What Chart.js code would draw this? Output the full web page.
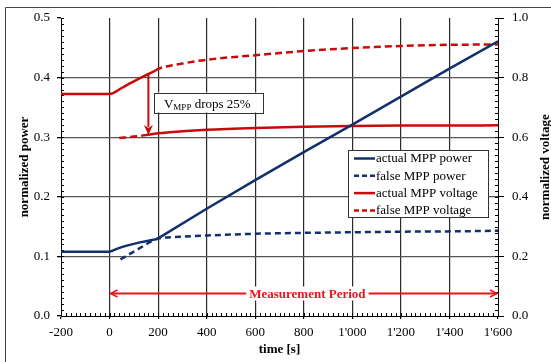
<!DOCTYPE html>
<html><head><meta charset="utf-8">
<script src="https://cdn.jsdelivr.net/npm/chart.js@4/dist/chart.umd.min.js"></script>
<style>html,body{margin:0;padding:0;background:#fff}#wrap{width:551px;height:362px;position:relative}canvas{display:block}</style>
</head><body><div id="wrap"><canvas id="c" width="551" height="362"></canvas></div>
<script>
// ---- data ----
const xTickValues = [-200,0,200,400,600,800,1000,1200,1400,1600];
const powerTickValues = [0,0.1,0.2,0.3,0.4,0.5];
const voltageTickValues = [0,0.2,0.4,0.6,0.8,1.0];

const timeActualPower = [-200,0,15,30,50,75,100,125,150,175,195,400,600,800,1000,1200,1400,1600];
const actualPower     = [0.108,0.108,0.110,0.1125,0.1155,0.1185,0.121,0.1235,0.1255,0.1275,0.129,0.180,0.228,0.275,0.321,0.368,0.415,0.461];

const timeFalsePower = [45,100,150,185,200,300,400,600,800,1000,1200,1400,1600];
const falsePower     = [0.095,0.108,0.120,0.128,0.130,0.133,0.135,0.138,0.1395,0.1405,0.1415,0.142,0.143];

const timeActualVoltageBefore = [-200,0,15,50,100,150,190];
const actualVoltageBefore     = [0.745,0.745,0.748,0.765,0.787,0.808,0.824];
const timeActualVoltageAfter  = [150,200,300,400,600,800,1000,1200,1400,1600];
const actualVoltageAfter      = [0.607,0.613,0.620,0.625,0.631,0.635,0.638,0.639,0.639,0.640];

const timeFalseVoltageBefore = [40,100,150];
const falseVoltageBefore     = [0.597,0.602,0.607];
const timeFalseVoltageAfter  = [190,200,300,400,600,800,1000,1200,1400,1600];
const falseVoltageAfter      = [0.824,0.829,0.847,0.860,0.875,0.889,0.899,0.906,0.910,0.911];

const seriesLabels = ['actual MPP power','false MPP power','actual MPP voltage','false MPP voltage'];

// annotations (data units)
const dropArrow = {time:160, from:0.812, to:0.607, text:'drops 25%'};
const dropBox = {time:183, value:0.75};
const period = {start:0, end:1600, value:0.039, label:'Measurement Period', labelTime:815};

const NAVY = '#13306E', RED = '#C80A0A', BRIGHT = '#E8141C';
const SERIF = '"Liberation Serif","Times New Roman",serif';
const pts = (xs, ys) => xs.map((v,i)=>({x:v, y:ys[i]}));
const fmtX = v => { const s = Math.abs(v) >= 1000 ? (v<0?'-':'') + Math.floor(Math.abs(v)/1000) + "'" + String(Math.abs(v)%1000).padStart(3,'0') : String(v); return s; };

const datasets = [
  {label:seriesLabels[0], data:pts(timeActualPower, actualPower), borderColor:NAVY, borderWidth:2.5, yAxisID:'y', legend:true, cubicInterpolationMode:'default', tension:0},
  {label:seriesLabels[1], data:pts(timeFalsePower, falsePower), borderColor:NAVY, borderWidth:2.5, borderDash:[6,4], yAxisID:'y', legend:true},
  {label:seriesLabels[2], data:pts(timeActualVoltageBefore, actualVoltageBefore), borderColor:RED, borderWidth:2.5, yAxisID:'y1', legend:true},
  {label:seriesLabels[2], data:pts(timeActualVoltageAfter, actualVoltageAfter), borderColor:RED, borderWidth:2.5, yAxisID:'y1'},
  {label:seriesLabels[3], data:pts(timeFalseVoltageBefore, falseVoltageBefore), borderColor:RED, borderWidth:2.5, borderDash:[7,4], yAxisID:'y1', legend:true},
  {label:seriesLabels[3], data:pts(timeFalseVoltageAfter, falseVoltageAfter), borderColor:RED, borderWidth:2.5, borderDash:[7,4], yAxisID:'y1'}
].map(d=>Object.assign({pointRadius:0, fill:false, cubicInterpolationMode:'monotone', borderCapStyle:'butt', borderJoinStyle:'round'}, d));

const minorTicks = {id:'minorTicks', beforeDatasetsDraw(chart){
  const {ctx, chartArea:a, scales:{x,y,y1}} = chart;
  ctx.save(); ctx.strokeStyle='#000'; ctx.lineWidth=1; ctx.beginPath();
  for (let v=x.min; v<=x.max; v+=20){ const p=Math.round(x.getPixelForValue(v))+0.5; ctx.moveTo(p,a.bottom); ctx.lineTo(p,a.bottom-3); }
  for (let i=0;i<=50;i++){ const p=Math.round(y.getPixelForValue(i/100))+0.5; ctx.moveTo(a.left,p); ctx.lineTo(a.left+3,p); }
  for (let i=0;i<=50;i++){ const p=Math.round(y1.getPixelForValue(i*0.02))+0.5; ctx.moveTo(a.right,p); ctx.lineTo(a.right-3,p); }
  ctx.stroke(); ctx.restore();
}};

const overlay = {id:'overlay', afterDatasetsDraw(chart){
  const {ctx, chartArea:a, scales:{x,y,y1}} = chart;
  ctx.save();
  // drop arrow
  const ax = x.getPixelForValue(dropArrow.time), ay0 = y1.getPixelForValue(dropArrow.from), ay1 = y1.getPixelForValue(dropArrow.to);
  ctx.strokeStyle = RED; ctx.fillStyle = RED; ctx.lineWidth = 2;
  ctx.beginPath(); ctx.moveTo(ax, ay0); ctx.lineTo(ax, ay1-8); ctx.stroke();
  ctx.beginPath(); ctx.moveTo(ax, ay1); ctx.lineTo(ax-4.5, ay1-10); ctx.lineTo(ax, ay1-7); ctx.lineTo(ax+4.5, ay1-10); ctx.closePath(); ctx.fill();
  // drop box
  const bx = x.getPixelForValue(dropBox.time), by = y1.getPixelForValue(dropBox.value);
  ctx.font = '13px '+SERIF; const wV = ctx.measureText('V').width;
  ctx.font = '9px '+SERIF; const wS = ctx.measureText('MPP').width;
  ctx.font = '13px '+SERIF; const wT = ctx.measureText(' '+dropArrow.text).width;
  const bw = wV+wS+wT+22, bh = 20;
  ctx.fillStyle='#fff'; ctx.fillRect(bx, by, bw, bh);
  ctx.strokeStyle='#333'; ctx.lineWidth=1; ctx.strokeRect(Math.round(bx)+0.5, Math.round(by)+0.5, Math.round(bw), bh);
  ctx.fillStyle='#000'; ctx.textBaseline='alphabetic'; ctx.textAlign='left';
  const base = by+15;
  ctx.font='13px '+SERIF; ctx.fillText('V', bx+10, base);
  ctx.font='9px '+SERIF; ctx.fillText('MPP', bx+10+wV, base+2.5);
  ctx.font='13px '+SERIF; ctx.fillText(' '+dropArrow.text, bx+10+wV+wS, base);
  // measurement period
  const px0 = x.getPixelForValue(period.start), px1 = x.getPixelForValue(period.end), py = Math.round(y.getPixelForValue(period.value))+0.5;
  ctx.strokeStyle = BRIGHT; ctx.lineWidth = 2;
  ctx.beginPath(); ctx.moveTo(px0+1, py); ctx.lineTo(px1-1, py); ctx.stroke();
  ctx.lineWidth = 1.5;
  ctx.beginPath(); ctx.moveTo(px0+8, py-3.5); ctx.lineTo(px0+1, py); ctx.lineTo(px0+8, py+3.5); ctx.stroke();
  ctx.beginPath(); ctx.moveTo(px1-8, py-3.5); ctx.lineTo(px1-1, py); ctx.lineTo(px1-8, py+3.5); ctx.stroke();
  ctx.font = 'bold 13px '+SERIF; const lw = ctx.measureText(period.label).width; const lx = x.getPixelForValue(period.labelTime);
  ctx.fillStyle='#fff'; ctx.fillRect(lx-lw/2-3, py-7, lw+6, 14);
  ctx.fillStyle=BRIGHT; ctx.textAlign='center'; ctx.textBaseline='middle'; ctx.fillText(period.label, lx, py+1);
  // legend
  const L = a.right-150, T = a.top+132, W = 140, H = 67;
  ctx.fillStyle='#fff'; ctx.fillRect(L, T, W, H);
  ctx.strokeStyle='#333'; ctx.lineWidth=1; ctx.strokeRect(L+0.5, T+0.5, W, H);
  const entries = chart.data.datasets.filter(d=>d.legend);
  entries.forEach((d,i)=>{
    const cy = T + 8.5 + i*17.3;
    ctx.strokeStyle = d.borderColor; ctx.lineWidth = 2.5; ctx.setLineDash(d.borderDash ? [5,3] : []);
    ctx.beginPath(); ctx.moveTo(L+6, cy); ctx.lineTo(L+27, cy); ctx.stroke(); ctx.setLineDash([]);
    ctx.fillStyle='#000'; ctx.font='13px '+SERIF; ctx.textAlign='left'; ctx.textBaseline='middle';
    ctx.fillText(d.label, L+28, cy+0.5);
  });
  ctx.restore();
}, afterDraw(chart){
  const {ctx, chartArea:a} = chart;
  ctx.save();
  // right axis title
  ctx.translate(546, (a.top+a.bottom)/2); ctx.rotate(-Math.PI/2);
  ctx.font='bold 13px '+SERIF; ctx.fillStyle='#000'; ctx.textAlign='center'; ctx.textBaseline='middle';
  ctx.fillText('normalized voltage', 0, 0);
  ctx.restore();
  // outer frame
  ctx.save(); ctx.strokeStyle='#444'; ctx.lineWidth=1; ctx.beginPath();
  ctx.moveTo(5.5, 362); ctx.lineTo(5.5, 7.5); ctx.lineTo(551, 7.5); ctx.stroke(); ctx.restore();
}};

const tickFont = {family:SERIF, size:13};
new Chart(document.getElementById('c'), {
  type:'line',
  data:{datasets},
  options:{
    responsive:false, animation:false, events:[],
    layout:{padding:{top:18,left:0,right:0,bottom:0}},
    plugins:{legend:{display:false}, tooltip:{enabled:false}},
    scales:{
      x:{type:'linear', min:-200, max:1600,
        afterBuildTicks:s=>{s.ticks = xTickValues.map(v=>({value:v}));},
        ticks:{callback:v=>fmtX(v), font:tickFont, color:'#000', padding:6, maxRotation:0, autoSkip:false},
        grid:{color:c=> (c.tick && (c.tick.value===-200||c.tick.value===1600)) ? 'rgba(0,0,0,0)' : '#2a2a2a', lineWidth:1.2, tickLength:3, tickColor:'#000'},
        border:{color:'#000', width:1},
        title:{display:true, text:'time [s]', font:{family:SERIF, size:13, weight:'bold'}, color:'#000', padding:{top:0,bottom:5}},
        afterFit:s=>{s.height=46;}
      },
      y:{type:'linear', position:'left', min:0, max:0.5,
        afterBuildTicks:s=>{s.ticks = powerTickValues.map(v=>({value:v}));},
        ticks:{callback:v=>v.toFixed(1), font:tickFont, color:'#000', padding:7},
        grid:{color:c=> (c.tick && (c.tick.value===0||c.tick.value===0.5)) ? 'rgba(0,0,0,0)' : '#555', lineWidth:1.3, tickLength:4, tickColor:'#000'},
        border:{color:'#000', width:1},
        title:{display:true, text:'normalized power', font:{family:SERIF, size:13, weight:'bold'}, color:'#000', padding:{top:17,bottom:0}},
        afterFit:s=>{s.width=61;}
      },
      y1:{type:'linear', position:'right', min:0, max:1,
        afterBuildTicks:s=>{s.ticks = voltageTickValues.map(v=>({value:v}));},
        ticks:{callback:v=>v.toFixed(1), font:tickFont, color:'#000', padding:8},
        grid:{drawOnChartArea:false, tickLength:6, tickColor:'#000'},
        border:{color:'#000', width:1},
        afterFit:s=>{s.width=53;}
      }
    }
  },
  plugins:[minorTicks, overlay]
});
</script></body></html>
